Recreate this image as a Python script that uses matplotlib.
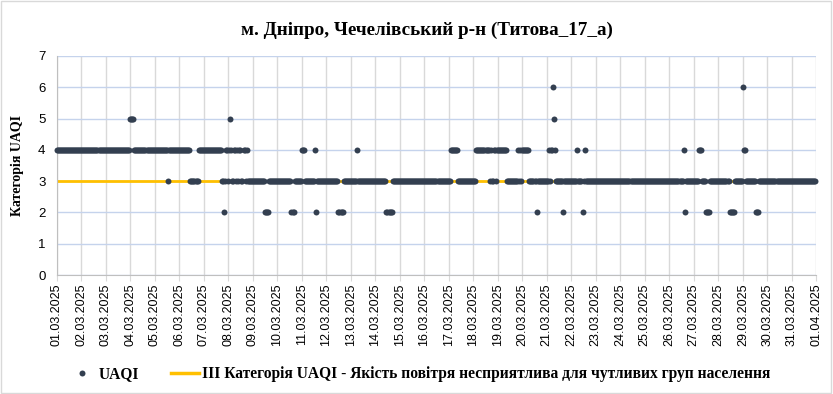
import matplotlib
matplotlib.use("Agg")
from matplotlib import pyplot as plt
from matplotlib.lines import Line2D
from matplotlib.patches import Rectangle
import numpy as np
import pandas as pd

# hourly UAQI category, stored as runs (value, number of hours) from 01.03.2025 00:00
run_values = [4, 5, 4, 3, 4, 3, 4,
              3, 3, 2, 3, 4, 4, 3, 4, 5, 4, 3, 3, 4, 4, 3, 4, 3, 4, 4, 3, 3, 4, 4, 3, 4,
              3, 2, 3, 2, 3, 4, 3, 4, 2, 3, 2, 3, 4, 3, 2, 3, 4, 3, 4,
              3, 4, 3, 3, 4, 4, 3, 4, 3,
              4, 3, 4, 3, 4, 4, 3, 2, 3,
              4, 3, 4, 4, 6, 5, 4, 3, 2, 3, 4, 3, 2, 3, 4, 3,
              4, 2, 3, 4, 3, 2, 3, 2, 3, 6, 4, 3, 2, 3]
run_hours = [72, 4, 33, 1, 21, 8, 23,
             1, 1, 1, 1, 1, 1, 1, 1, 1, 1, 1, 1, 1, 1, 1, 1, 1, 1, 1, 1, 1, 1, 1, 1, 1,
             17, 4, 22, 3, 7, 3, 10, 1, 1, 21, 5, 13, 1, 28, 6, 57, 7, 18, 13,
             1, 1, 1, 1, 1, 1, 1, 10, 11,
             1, 1, 1, 1, 1, 6, 7, 1, 11,
             1, 1, 1, 1, 1, 1, 1, 7, 1, 13, 1, 4, 1, 1, 1, 96,
             1, 1, 13, 3, 4, 4, 19, 5, 8, 1, 2, 10, 3, 56]

threshold = 3
title = "м. Дніпро, Чечелівський р-н (Титова_17_а)"
line_label = "ІІІ Категорія UAQI - Якість повітря несприятлива для чутливих груп населення"

uaqi = np.repeat(run_values, run_hours)
hours = pd.date_range("2025-03-01", periods=len(uaqi), freq="h")
days = pd.date_range("2025-03-01", "2025-04-01", freq="D")
day_labels = [d.strftime("%d.%m.%Y") for d in days]

serif = "Liberation Serif"
sans = "Liberation Sans"
dot_color = "#333f50"
gold = "#ffc000"

fig = plt.figure(figsize=(8.33, 3.94), dpi=100)
fig.patches.append(Rectangle((0.001, 0.002), 0.997, 0.996, transform=fig.transFigure,
                             fill=False, edgecolor="#d9d9d9", linewidth=1))
ax = fig.add_axes([0.068, 0.302, 0.912, 0.556])

ax.plot(hours, np.full(len(hours), threshold), color=gold, linewidth=2.0, zorder=2)
ax.plot(hours, uaqi, linestyle="none", marker="o", markersize=4.3,
        color=dot_color, markeredgewidth=0, zorder=3, clip_on=False)

ax.set_xlim(days[0], days[-1])
ax.set_ylim(0, 7)
ax.set_yticks(range(0, 8))
ax.set_xticks(days)
ax.set_xticklabels(day_labels, rotation=90, fontsize=9, family=sans)
for t in ax.get_yticklabels():
    t.set_family(sans)
    t.set_fontsize(9.5)

ax.grid(axis="x", color="#d9d9d9", linewidth=1, zorder=0)
ax.grid(axis="y", color="#c5d3ec", linewidth=1, zorder=0)
ax.set_axisbelow(True)
for s in ["top", "right"]:
    ax.spines[s].set_visible(False)
for s in ["left", "bottom"]:
    ax.spines[s].set_color("#bfbfbf")
ax.tick_params(axis="y", length=0, pad=8)
ax.tick_params(axis="x", length=4, color="#d9d9d9", pad=2)

ax.set_ylabel("Категорія UAQI", family=serif, fontweight="bold", fontsize=10, labelpad=10)
fig.text(0.512, 0.923, title, family=serif, fontweight="bold", fontsize=13.8,
         ha="center", va="center")

handles = [Line2D([], [], linestyle="none", marker="o", markersize=4.3,
                  color=dot_color, markeredgewidth=0),
           Line2D([], [], color=gold, linewidth=2.5)]
fig.legend(handles, ["UAQI", line_label], loc="center", bbox_to_anchor=(0.503, 0.05),
           ncol=2, frameon=False, handlelength=1.8, handletextpad=0.2, columnspacing=2.0,
           prop={"family": serif, "weight": "bold", "size": 11.2})

fig.savefig("out.png", dpi=100)
